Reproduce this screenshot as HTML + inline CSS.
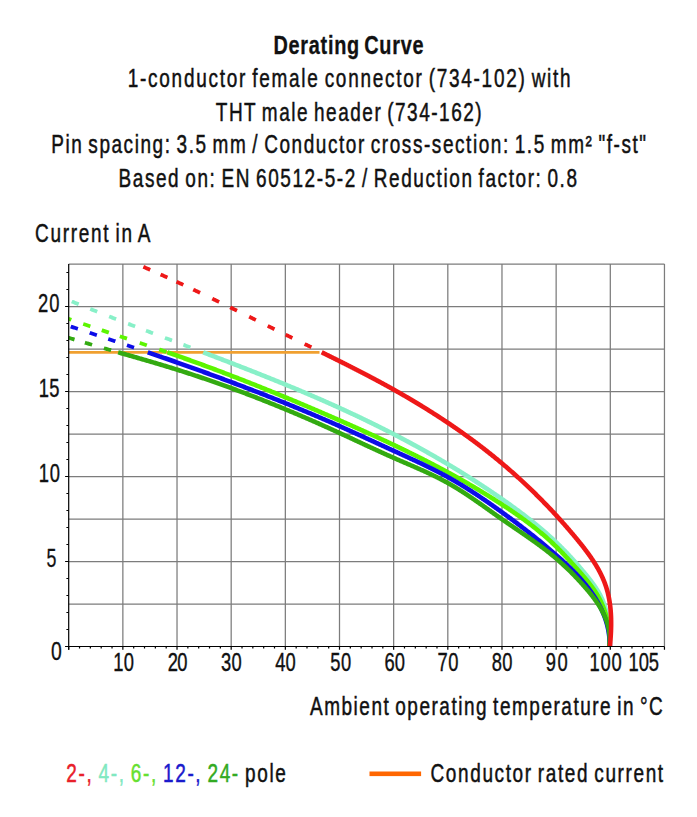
<!DOCTYPE html>
<html><head><meta charset="utf-8"><style>
html,body{margin:0;padding:0;background:#fff;}
svg{display:block;}
text{font-family:"Liberation Sans",sans-serif;fill:#111;stroke:#111;stroke-width:0.3;}
tspan{stroke:currentColor;}
</style></head><body>
<svg width="697" height="817" viewBox="0 0 697 817">
<defs><clipPath id="pc"><rect x="68.7" y="264" width="595.5" height="382.5"/></clipPath></defs>
<g id="grid" stroke="#7c7c7c" stroke-width="1.25" fill="none"><path d="M122.86,264V646.5M177.02,264V646.5M231.18,264V646.5M285.34,264V646.5M339.50,264V646.5M393.66,264V646.5M447.82,264V646.5M501.98,264V646.5M556.14,264V646.5M610.30,264V646.5M664.46,264V646.5M68.7,604.00H664.46M68.7,561.50H664.46M68.7,519.00H664.46M68.7,476.50H664.46M68.7,434.00H664.46M68.7,391.50H664.46M68.7,349.00H664.46M68.7,306.50H664.46M68.7,264.00H664.46"/></g>
<g id="plot" clip-path="url(#pc)">
<path d="M68.7,352.30H319.50" stroke="#f0a030" stroke-width="2.8" fill="none"/>
<path d="M53.27,293.75 53.89,294.02 54.61,294.32 55.32,294.62 56.04,294.92 56.76,295.22 57.47,295.52 58.19,295.82 58.90,296.12 59.62,296.42 60.18,296.66 M71.73,301.44 71.82,301.48 72.54,301.77 73.26,302.06 73.98,302.36 74.70,302.65 75.41,302.95 76.13,303.24 76.85,303.53 77.57,303.83 78.29,304.12 78.67,304.27 M90.22,308.92 90.54,309.05 91.27,309.34 91.99,309.63 92.71,309.92 93.43,310.21 94.15,310.49 94.88,310.78 95.60,311.07 96.32,311.36 97.04,311.64 97.18,311.70 M109.11,316.40 109.34,316.49 110.06,316.77 110.79,317.05 111.51,317.34 112.24,317.62 112.96,317.90 113.68,318.18 114.41,318.47 115.13,318.75 115.86,319.03 116.09,319.12 M128.10,323.77 128.19,323.80 128.91,324.08 129.64,324.36 130.37,324.64 131.09,324.92 131.82,325.20 132.54,325.48 133.27,325.76 134.00,326.03 134.72,326.31 135.10,326.46 M146.00,330.62 146.35,330.76 147.08,331.03 147.80,331.31 148.53,331.59 149.26,331.86 149.99,332.14 150.71,332.42 151.44,332.69 152.17,332.97 152.90,333.25 153.01,333.29 M164.99,337.83 165.26,337.94 165.99,338.21 166.72,338.49 167.45,338.76 168.18,339.04 168.90,339.31 169.63,339.59 170.36,339.87 171.09,340.14 171.81,340.42 172.01,340.49 M183.39,344.80 183.46,344.82 184.19,345.10 184.92,345.37 185.64,345.65 186.37,345.92 187.10,346.20 187.83,346.48 188.56,346.75 189.28,347.03 190.01,347.30 190.41,347.45" stroke="#88f0c8" stroke-width="3.80" fill="none"/>
<path d="M203.19,352.30 203.84,352.55 204.56,352.82 205.29,353.10 206.02,353.38 206.75,353.65 207.47,353.93 208.20,354.21 208.93,354.49 209.65,354.76 210.38,355.04 211.11,355.32 211.84,355.59 212.56,355.87 213.29,356.15 214.02,356.43 214.74,356.70 215.47,356.98 216.20,357.26 216.92,357.54 217.65,357.82 218.38,358.10 219.10,358.37 219.83,358.65 220.56,358.93 221.28,359.21 222.01,359.49 222.74,359.77 223.46,360.05 224.19,360.32 224.92,360.60 225.64,360.88 226.37,361.16 227.09,361.44 227.82,361.72 228.55,362.00 229.27,362.28 230.00,362.56 230.72,362.84 231.45,363.12 232.18,363.40 232.90,363.68 233.63,363.97 234.35,364.25 235.08,364.53 235.80,364.81 236.53,365.09 237.25,365.37 237.98,365.65 238.70,365.93 239.43,366.22 240.15,366.50 240.88,366.78 241.60,367.06 242.33,367.35 243.05,367.63 243.78,367.91 244.50,368.20 245.23,368.48 245.95,368.76 246.67,369.05 247.40,369.33 248.12,369.61 248.85,369.90 249.57,370.18 250.29,370.47 251.02,370.75 251.74,371.04 252.47,371.32 253.19,371.61 253.91,371.89 254.64,372.18 255.36,372.46 256.08,372.75 256.81,373.04 257.53,373.32 258.25,373.61 258.97,373.90 259.70,374.18 260.42,374.47 261.14,374.76 261.87,375.05 262.59,375.33 263.31,375.62 264.03,375.91 264.75,376.20 265.48,376.49 266.20,376.78 266.92,377.07 267.64,377.36 268.36,377.65 269.08,377.94 269.81,378.23 270.53,378.52 271.25,378.81 271.97,379.10 272.69,379.39 273.41,379.68 274.13,379.97 274.85,380.26 275.57,380.56 276.29,380.85 277.01,381.14 277.73,381.43 278.45,381.73 279.17,382.02 279.89,382.31 280.61,382.61 281.33,382.90 282.05,383.20 282.77,383.49 283.49,383.79 284.21,384.08 284.93,384.38 285.65,384.67 286.37,384.97 287.09,385.27 287.80,385.56 288.52,385.86 289.24,386.16 289.96,386.45 290.68,386.75 291.39,387.05 292.11,387.35 292.83,387.65 293.55,387.94 294.26,388.24 294.98,388.54 295.70,388.84 296.42,389.14 297.13,389.44 297.85,389.74 298.57,390.05 299.28,390.35 300.00,390.65 300.71,390.95 301.43,391.25 302.15,391.56 302.86,391.86 303.58,392.16 304.29,392.46 305.01,392.77 305.72,393.07 306.44,393.38 307.15,393.68 307.87,393.99 308.58,394.29 309.30,394.60 310.01,394.90 310.72,395.21 311.44,395.52 312.15,395.83 312.87,396.13 313.58,396.44 314.29,396.75 315.00,397.06 315.72,397.37 316.43,397.68 317.14,397.99 317.86,398.30 318.57,398.61 319.28,398.92 319.99,399.23 320.70,399.54 321.42,399.85 322.13,400.16 322.84,400.47 323.55,400.79 324.26,401.10 324.97,401.41 325.68,401.73 326.39,402.04 327.10,402.36 327.81,402.67 328.52,402.99 329.23,403.30 329.94,403.62 330.65,403.94 331.36,404.25 332.07,404.57 332.78,404.89 333.49,405.21 334.20,405.53 334.90,405.85 335.61,406.17 336.32,406.48 337.03,406.81 337.74,407.13 338.44,407.45 339.15,407.77 339.86,408.09 340.56,408.41 341.27,408.74 341.98,409.06 342.68,409.38 343.39,409.71 344.10,410.03 344.80,410.36 345.51,410.68 346.21,411.01 346.92,411.33 347.62,411.66 348.33,411.99 349.03,412.31 349.74,412.64 350.44,412.97 351.14,413.30 351.85,413.63 352.55,413.96 353.25,414.29 353.96,414.62 354.66,414.95 355.36,415.28 356.07,415.61 356.77,415.94 357.47,416.27 358.17,416.61 358.87,416.94 359.58,417.27 360.28,417.61 360.98,417.94 361.68,418.28 362.38,418.61 363.08,418.95 363.78,419.29 364.48,419.62 365.18,419.96 365.88,420.30 366.58,420.64 367.28,420.98 367.98,421.31 368.68,421.65 369.37,421.99 370.07,422.33 370.77,422.68 371.47,423.02 372.17,423.36 372.86,423.70 373.56,424.04 374.26,424.39 374.95,424.73 375.65,425.07 376.35,425.42 377.04,425.76 377.74,426.11 378.43,426.46 379.13,426.80 379.82,427.15 380.52,427.50 381.21,427.84 381.91,428.19 382.60,428.54 383.30,428.89 383.99,429.24 384.68,429.59 385.38,429.94 386.07,430.29 386.76,430.64 387.45,430.99 388.15,431.35 388.84,431.70 389.53,432.05 390.22,432.41 390.91,432.76 391.60,433.12 392.30,433.47 392.99,433.83 393.68,434.18 394.37,434.54 395.06,434.90 395.75,435.26 396.43,435.61 397.12,435.97 397.81,436.33 398.50,436.69 399.19,437.05 399.88,437.41 400.56,437.77 401.25,438.14 401.94,438.50 402.63,438.86 403.31,439.22 404.00,439.59 404.69,439.95 405.37,440.32 406.06,440.68 406.74,441.05 407.43,441.41 408.11,441.78 408.80,442.15 409.48,442.51 410.17,442.88 410.85,443.25 411.53,443.62 412.22,443.99 412.90,444.36 413.58,444.73 414.27,445.10 414.95,445.47 415.63,445.84 416.31,446.22 416.99,446.59 417.67,446.96 418.35,447.34 419.04,447.71 419.72,448.09 420.40,448.46 421.08,448.84 421.76,449.22 422.43,449.59 423.11,449.97 423.79,450.35 424.47,450.73 425.15,451.11 425.83,451.49 426.50,451.87 427.18,452.25 427.86,452.63 428.53,453.01 429.21,453.39 429.89,453.78 430.56,454.16 431.24,454.54 431.91,454.93 432.59,455.31 433.26,455.70 433.94,456.08 434.61,456.47 435.28,456.86 435.96,457.25 436.63,457.63 437.30,458.02 437.98,458.41 438.65,458.80 439.32,459.19 439.99,459.58 440.66,459.98 441.33,460.37 442.01,460.76 442.68,461.15 443.35,461.55 444.02,461.94 444.69,462.34 445.35,462.73 446.02,463.13 446.69,463.52 447.36,463.92 448.03,464.32 448.70,464.71 449.36,465.11 450.03,465.51 450.70,465.91 451.36,466.31 452.03,466.71 452.70,467.11 453.36,467.52 454.03,467.92 454.69,468.32 455.35,468.73 456.02,469.13 456.68,469.53 457.35,469.94 458.01,470.34 458.67,470.75 459.34,471.16 460.00,471.57 460.66,471.97 461.32,472.38 461.98,472.79 462.64,473.20 463.30,473.61 463.96,474.02 464.62,474.43 465.28,474.85 465.94,475.26 466.60,475.67 467.26,476.09 467.92,476.50 468.58,476.91 469.23,477.33 469.89,477.75 470.55,478.16 471.21,478.58 471.86,479.00 472.52,479.42 473.17,479.83 473.83,480.25 474.48,480.67 475.14,481.10 475.79,481.52 476.45,481.94 477.10,482.36 477.75,482.78 478.41,483.21 479.06,483.63 479.71,484.06 480.36,484.48 481.01,484.91 481.66,485.33 482.32,485.76 482.97,486.19 483.62,486.62 484.27,487.05 484.91,487.48 485.56,487.91 486.21,488.34 486.86,488.77 487.51,489.20 488.16,489.63 488.80,490.07 489.45,490.50 490.10,490.93 490.74,491.37 491.39,491.80 492.03,492.24 492.68,492.68 493.32,493.12 493.97,493.55 494.61,493.99 495.26,494.43 495.90,494.87 496.54,495.31 497.18,495.75 497.83,496.19 498.47,496.64 499.11,497.08 499.75,497.52 500.39,497.97 501.03,498.41 501.67,498.86 502.31,499.30 502.95,499.75 503.59,500.20 504.23,500.64 504.86,501.09 505.50,501.54 506.14,501.99 506.78,502.44 507.41,502.89 508.05,503.35 508.68,503.80 509.32,504.25 509.95,504.71 510.58,505.16 511.22,505.62 511.85,506.07 512.48,506.53 513.11,506.99 513.74,507.45 514.38,507.91 515.00,508.37 515.63,508.83 516.26,509.29 516.89,509.75 517.52,510.21 518.14,510.68 518.77,511.14 519.40,511.61 520.02,512.07 520.64,512.54 521.27,513.01 521.89,513.48 522.51,513.95 523.13,514.42 523.75,514.89 524.37,515.37 524.99,515.84 525.61,516.31 526.22,516.79 526.84,517.27 527.45,517.74 528.07,518.22 528.68,518.70 529.30,519.18 529.91,519.66 530.52,520.15 531.13,520.63 531.74,521.11 532.35,521.60 532.95,522.08 533.56,522.57 534.16,523.06 534.77,523.55 535.37,524.04 535.97,524.53 536.58,525.02 537.18,525.52 537.77,526.01 538.37,526.51 538.97,527.01 539.57,527.50 540.16,528.00 540.76,528.50 541.35,529.01 541.94,529.51 542.53,530.01 543.12,530.52 543.71,531.02 544.29,531.53 544.88,532.04 545.47,532.55 546.05,533.06 546.63,533.57 547.21,534.09 547.79,534.60 548.37,535.12 548.95,535.63 549.52,536.15 550.10,536.67 550.67,537.19 551.25,537.72 551.82,538.24 552.39,538.76 552.95,539.29 553.52,539.82 554.09,540.35 554.65,540.88 555.21,541.41 555.77,541.94 556.33,542.48 556.89,543.01 557.45,543.55 558.01,544.09 558.56,544.63 559.11,545.17 559.67,545.71 560.22,546.25 560.77,546.80 561.31,547.34 561.86,547.89 562.41,548.44 562.95,548.99 563.49,549.54 564.03,550.09 564.57,550.65 565.11,551.20 565.65,551.76 566.19,552.32 566.72,552.88 567.26,553.44 567.79,554.00 568.32,554.57 568.85,555.13 569.38,555.70 569.91,556.26 570.43,556.83 570.96,557.40 571.48,557.97 572.01,558.55 572.53,559.12 573.05,559.70 573.57,560.27 574.09,560.85 574.61,561.43 575.13,562.01 575.64,562.59 576.16,563.17 576.67,563.76 577.18,564.34 577.69,564.93 578.21,565.52 578.71,566.11 579.22,566.70 579.73,567.29 580.24,567.88 580.74,568.48 581.25,569.07 581.75,569.67 582.26,570.27 582.76,570.87 583.26,571.47 583.76,572.07 584.26,572.67 584.76,573.27 585.25,573.88 585.75,574.49 586.25,575.09 586.74,575.70 587.23,576.31 587.73,576.93 588.22,577.54 588.70,578.15 589.19,578.77 589.68,579.39 590.16,580.01 590.64,580.63 591.11,581.25 591.58,581.88 592.05,582.51 592.52,583.14 592.98,583.77 593.44,584.40 593.89,585.04 594.34,585.68 594.79,586.32 595.23,586.96 595.66,587.61 596.09,588.26 596.52,588.91 596.94,589.56 597.35,590.22 597.76,590.88 598.16,591.54 598.55,592.20 598.94,592.87 599.32,593.54 599.69,594.22 600.06,594.89 600.41,595.57 600.77,596.26 601.11,596.95 601.44,597.64 601.77,598.33 602.08,599.03 602.39,599.73 602.69,600.44 602.99,601.14 603.27,601.86 603.54,602.57 603.81,603.29 604.07,604.01 604.32,604.73 604.57,605.46 604.80,606.19 605.03,606.92 605.25,607.66 605.47,608.40 605.67,609.14 605.87,609.88 606.07,610.63 606.25,611.38 606.43,612.13 606.60,612.88 606.77,613.63 606.93,614.39 607.08,615.15 607.23,615.91 607.37,616.67 607.51,617.44 607.64,618.20 607.76,618.97 607.88,619.74 607.99,620.51 608.10,621.28 608.20,622.06 608.30,622.83 608.39,623.61 608.48,624.38 608.56,625.16 608.63,625.94 608.71,626.72 608.77,627.50 608.84,628.28 608.90,629.06 608.95,629.84 609.00,630.63 609.05,631.41 609.09,632.19 609.13,632.98 609.17,633.76 609.20,634.55 609.23,635.33 609.25,636.11 609.27,636.90 609.29,637.68 609.31,638.47 609.32,639.25 609.33,640.03 609.34,640.82 609.34,641.60 609.34,642.38 609.34,643.16 609.34,643.94 609.34,644.72 609.33,645.50 609.32,646.27 609.31,647.05" stroke="#88f0c8" stroke-width="4.60" fill="none" stroke-linejoin="round"/>
<path d="M64.26,317.32 64.70,317.48 65.42,317.73 66.14,317.99 66.87,318.24 67.59,318.49 68.31,318.75 69.03,319.00 69.76,319.25 70.48,319.50 71.20,319.75 71.34,319.80 M83.25,323.91 83.50,324.00 84.22,324.24 84.95,324.49 85.67,324.74 86.40,324.99 87.12,325.23 87.84,325.48 88.57,325.73 89.29,325.97 90.02,326.22 90.35,326.33 M101.75,330.18 102.34,330.38 103.07,330.62 103.79,330.87 104.52,331.11 105.25,331.36 105.97,331.60 106.70,331.84 107.42,332.09 108.15,332.33 108.86,332.57 M119.84,336.24 120.49,336.45 121.21,336.70 121.94,336.94 122.66,337.18 123.39,337.42 124.11,337.67 124.84,337.91 125.57,338.15 126.29,338.39 126.96,338.62 M139.75,342.90 140.08,343.01 140.80,343.26 141.53,343.50 142.25,343.75 142.98,343.99 143.71,344.23 144.43,344.48 145.16,344.72 145.88,344.97 146.61,345.21 146.85,345.30 M159.25,349.51 159.65,349.64 160.37,349.89 161.09,350.14 161.82,350.39 162.54,350.64 163.26,350.89 163.99,351.14 164.71,351.38 165.43,351.63 166.16,351.88 166.35,351.95" stroke="#5cf500" stroke-width="3.80" fill="none"/>
<path d="M167.36,352.30 167.60,352.38 168.33,352.63 169.05,352.88 169.77,353.14 170.49,353.39 171.22,353.64 171.94,353.89 172.66,354.14 173.38,354.39 174.11,354.65 174.83,354.90 175.55,355.15 176.27,355.41 176.99,355.66 177.72,355.91 178.44,356.17 179.16,356.42 179.88,356.68 180.60,356.93 181.32,357.19 182.04,357.44 182.77,357.70 183.49,357.96 184.21,358.21 184.93,358.47 185.65,358.73 186.37,358.98 187.09,359.24 187.81,359.50 188.53,359.76 189.25,360.02 189.97,360.28 190.69,360.54 191.41,360.80 192.13,361.06 192.85,361.32 193.57,361.58 194.29,361.84 195.01,362.10 195.72,362.36 196.44,362.62 197.16,362.88 197.88,363.14 198.60,363.41 199.32,363.67 200.04,363.93 200.76,364.19 201.47,364.46 202.19,364.72 202.91,364.99 203.63,365.25 204.35,365.51 205.06,365.78 205.78,366.04 206.50,366.31 207.22,366.58 207.93,366.84 208.65,367.11 209.37,367.37 210.09,367.64 210.80,367.91 211.52,368.18 212.24,368.44 212.95,368.71 213.67,368.98 214.39,369.25 215.10,369.52 215.82,369.78 216.53,370.05 217.25,370.32 217.97,370.59 218.68,370.86 219.40,371.13 220.11,371.40 220.83,371.67 221.54,371.95 222.26,372.22 222.98,372.49 223.69,372.76 224.41,373.03 225.12,373.30 225.84,373.58 226.55,373.85 227.26,374.12 227.98,374.40 228.69,374.67 229.41,374.94 230.12,375.22 230.84,375.49 231.55,375.77 232.27,376.04 232.98,376.32 233.69,376.59 234.41,376.87 235.12,377.14 235.83,377.42 236.55,377.70 237.26,377.97 237.97,378.25 238.69,378.53 239.40,378.80 240.11,379.08 240.83,379.36 241.54,379.64 242.25,379.92 242.96,380.20 243.68,380.47 244.39,380.75 245.10,381.03 245.81,381.31 246.53,381.59 247.24,381.87 247.95,382.15 248.66,382.43 249.37,382.71 250.08,383.00 250.80,383.28 251.51,383.56 252.22,383.84 252.93,384.12 253.64,384.40 254.35,384.69 255.06,384.97 255.77,385.25 256.49,385.54 257.20,385.82 257.91,386.10 258.62,386.39 259.33,386.67 260.04,386.96 260.75,387.24 261.46,387.52 262.17,387.81 262.88,388.10 263.59,388.38 264.30,388.67 265.01,388.95 265.72,389.24 266.43,389.53 267.14,389.81 267.85,390.10 268.56,390.39 269.27,390.67 269.97,390.96 270.68,391.25 271.39,391.54 272.10,391.82 272.81,392.11 273.52,392.40 274.23,392.69 274.94,392.98 275.64,393.27 276.35,393.56 277.06,393.85 277.77,394.14 278.48,394.43 279.18,394.72 279.89,395.01 280.60,395.30 281.31,395.59 282.02,395.88 282.72,396.18 283.43,396.47 284.14,396.76 284.85,397.05 285.55,397.34 286.26,397.64 286.97,397.93 287.67,398.22 288.38,398.51 289.09,398.81 289.79,399.10 290.50,399.40 291.21,399.69 291.91,399.98 292.62,400.28 293.33,400.57 294.03,400.87 294.74,401.16 295.44,401.46 296.15,401.75 296.86,402.05 297.56,402.35 298.27,402.64 298.97,402.94 299.68,403.23 300.38,403.53 301.09,403.83 301.79,404.13 302.50,404.42 303.20,404.72 303.91,405.02 304.61,405.32 305.32,405.61 306.02,405.91 306.73,406.21 307.43,406.51 308.14,406.81 308.84,407.11 309.55,407.41 310.25,407.71 310.95,408.01 311.66,408.31 312.36,408.61 313.07,408.91 313.77,409.21 314.47,409.51 315.18,409.81 315.88,410.11 316.58,410.41 317.29,410.71 317.99,411.01 318.69,411.31 319.40,411.62 320.10,411.92 320.80,412.22 321.51,412.52 322.21,412.83 322.91,413.13 323.62,413.43 324.32,413.74 325.02,414.04 325.72,414.34 326.43,414.65 327.13,414.95 327.83,415.25 328.53,415.56 329.23,415.86 329.94,416.17 330.64,416.47 331.34,416.78 332.04,417.08 332.74,417.39 333.44,417.69 334.15,418.00 334.85,418.31 335.55,418.61 336.25,418.92 336.95,419.22 337.65,419.53 338.35,419.84 339.05,420.14 339.76,420.45 340.46,420.76 341.16,421.07 341.86,421.37 342.56,421.68 343.26,421.99 343.96,422.30 344.66,422.61 345.36,422.91 346.06,423.22 346.76,423.53 347.46,423.84 348.16,424.15 348.86,424.46 349.56,424.77 350.26,425.08 350.96,425.39 351.66,425.70 352.36,426.01 353.06,426.32 353.76,426.63 354.45,426.94 355.15,427.25 355.85,427.57 356.55,427.88 357.25,428.19 357.95,428.50 358.65,428.82 359.34,429.13 360.04,429.44 360.74,429.75 361.44,430.07 362.14,430.38 362.83,430.70 363.53,431.01 364.23,431.32 364.93,431.64 365.62,431.95 366.32,432.27 367.02,432.58 367.71,432.90 368.41,433.22 369.11,433.53 369.80,433.85 370.50,434.17 371.20,434.48 371.89,434.80 372.59,435.12 373.28,435.44 373.98,435.76 374.67,436.07 375.37,436.39 376.06,436.71 376.76,437.03 377.45,437.35 378.15,437.67 378.84,437.99 379.54,438.31 380.23,438.63 380.93,438.96 381.62,439.28 382.31,439.60 383.01,439.92 383.70,440.24 384.39,440.57 385.09,440.89 385.78,441.21 386.47,441.54 387.16,441.86 387.86,442.19 388.55,442.51 389.24,442.84 389.93,443.16 390.63,443.49 391.32,443.82 392.01,444.14 392.70,444.47 393.39,444.80 394.08,445.13 394.77,445.45 395.46,445.78 396.15,446.11 396.84,446.44 397.53,446.77 398.22,447.10 398.91,447.43 399.60,447.76 400.29,448.09 400.98,448.43 401.67,448.76 402.36,449.09 403.04,449.42 403.73,449.76 404.42,450.09 405.11,450.42 405.79,450.76 406.48,451.09 407.17,451.43 407.86,451.76 408.54,452.10 409.23,452.44 409.91,452.77 410.60,453.11 411.29,453.45 411.97,453.79 412.66,454.13 413.34,454.47 414.03,454.81 414.71,455.15 415.40,455.49 416.08,455.83 416.76,456.17 417.45,456.51 418.13,456.85 418.82,457.19 419.50,457.54 420.18,457.88 420.86,458.23 421.55,458.57 422.23,458.91 422.91,459.26 423.59,459.61 424.27,459.95 424.95,460.30 425.63,460.65 426.32,461.00 427.00,461.34 427.68,461.69 428.36,462.04 429.04,462.39 429.71,462.74 430.39,463.09 431.07,463.44 431.75,463.80 432.43,464.15 433.11,464.50 433.78,464.85 434.46,465.21 435.14,465.56 435.82,465.92 436.49,466.27 437.17,466.63 437.85,466.99 438.52,467.34 439.20,467.70 439.87,468.06 440.55,468.42 441.22,468.78 441.90,469.14 442.57,469.50 443.25,469.86 443.92,470.22 444.59,470.58 445.27,470.94 445.94,471.31 446.61,471.67 447.28,472.03 447.95,472.40 448.63,472.76 449.30,473.13 449.97,473.50 450.64,473.86 451.31,474.23 451.98,474.60 452.65,474.97 453.32,475.34 453.99,475.71 454.66,476.08 455.33,476.45 455.99,476.82 456.66,477.19 457.33,477.56 458.00,477.94 458.66,478.31 459.33,478.69 460.00,479.06 460.66,479.44 461.33,479.81 462.00,480.19 462.66,480.57 463.33,480.95 463.99,481.33 464.65,481.71 465.32,482.09 465.98,482.47 466.64,482.85 467.31,483.23 467.97,483.61 468.63,484.00 469.29,484.38 469.96,484.77 470.62,485.15 471.28,485.54 471.94,485.92 472.60,486.31 473.26,486.70 473.92,487.09 474.58,487.48 475.23,487.87 475.89,488.26 476.55,488.65 477.21,489.04 477.87,489.44 478.52,489.83 479.18,490.22 479.84,490.62 480.49,491.01 481.15,491.41 481.80,491.81 482.46,492.20 483.11,492.60 483.77,493.00 484.42,493.40 485.07,493.80 485.73,494.20 486.38,494.60 487.03,495.01 487.68,495.41 488.33,495.81 488.98,496.22 489.64,496.62 490.29,497.03 490.94,497.44 491.59,497.84 492.23,498.25 492.88,498.66 493.53,499.07 494.18,499.48 494.83,499.89 495.47,500.31 496.12,500.72 496.77,501.13 497.41,501.55 498.06,501.96 498.70,502.38 499.35,502.79 499.99,503.21 500.64,503.63 501.28,504.05 501.92,504.47 502.57,504.89 503.21,505.31 503.85,505.73 504.49,506.15 505.13,506.58 505.77,507.00 506.41,507.43 507.05,507.85 507.69,508.28 508.33,508.71 508.97,509.14 509.61,509.57 510.24,510.00 510.88,510.43 511.51,510.86 512.15,511.29 512.78,511.73 513.42,512.16 514.05,512.60 514.68,513.04 515.31,513.47 515.94,513.91 516.57,514.35 517.20,514.79 517.83,515.24 518.46,515.68 519.09,516.12 519.71,516.57 520.34,517.01 520.96,517.46 521.58,517.91 522.21,518.36 522.83,518.81 523.45,519.26 524.07,519.71 524.69,520.17 525.30,520.62 525.92,521.08 526.54,521.54 527.15,522.00 527.76,522.46 528.38,522.92 528.99,523.38 529.60,523.84 530.21,524.31 530.81,524.77 531.42,525.24 532.03,525.71 532.63,526.18 533.23,526.65 533.84,527.12 534.44,527.59 535.04,528.07 535.64,528.54 536.23,529.02 536.83,529.50 537.42,529.98 538.02,530.46 538.61,530.95 539.20,531.43 539.79,531.91 540.37,532.40 540.96,532.89 541.55,533.38 542.13,533.87 542.71,534.36 543.29,534.86 543.87,535.35 544.45,535.85 545.02,536.35 545.60,536.85 546.17,537.35 546.74,537.85 547.31,538.36 547.88,538.86 548.45,539.37 549.01,539.88 549.58,540.39 550.14,540.90 550.70,541.42 551.25,541.93 551.81,542.45 552.37,542.97 552.92,543.49 553.47,544.01 554.02,544.54 554.57,545.06 555.11,545.59 555.66,546.12 556.20,546.65 556.74,547.18 557.28,547.71 557.82,548.25 558.35,548.79 558.89,549.32 559.42,549.86 559.95,550.40 560.48,550.95 561.01,551.49 561.53,552.04 562.06,552.58 562.59,553.13 563.11,553.68 563.63,554.23 564.15,554.78 564.67,555.34 565.19,555.89 565.71,556.45 566.23,557.00 566.75,557.56 567.26,558.12 567.78,558.68 568.30,559.24 568.81,559.80 569.32,560.37 569.84,560.93 570.35,561.50 570.86,562.06 571.38,562.63 571.89,563.20 572.40,563.76 572.91,564.33 573.42,564.90 573.93,565.47 574.44,566.04 574.95,566.61 575.46,567.19 575.97,567.76 576.48,568.33 576.99,568.90 577.50,569.48 578.01,570.05 578.52,570.63 579.03,571.21 579.54,571.78 580.04,572.36 580.55,572.94 581.06,573.52 581.56,574.10 582.06,574.68 582.56,575.27 583.07,575.85 583.56,576.44 584.06,577.02 584.56,577.61 585.05,578.20 585.55,578.79 586.04,579.38 586.53,579.98 587.01,580.57 587.50,581.17 587.98,581.77 588.46,582.37 588.93,582.98 589.41,583.58 589.88,584.19 590.35,584.80 590.81,585.41 591.27,586.02 591.73,586.64 592.18,587.26 592.63,587.88 593.08,588.50 593.52,589.13 593.95,589.75 594.38,590.38 594.81,591.02 595.23,591.65 595.65,592.29 596.06,592.94 596.47,593.58 596.87,594.23 597.26,594.88 597.65,595.53 598.04,596.19 598.41,596.85 598.78,597.52 599.15,598.18 599.51,598.85 599.86,599.53 600.20,600.21 600.54,600.89 600.87,601.57 601.20,602.26 601.52,602.95 601.83,603.64 602.14,604.34 602.44,605.04 602.73,605.74 603.02,606.45 603.30,607.16 603.57,607.87 603.84,608.58 604.10,609.30 604.35,610.02 604.60,610.74 604.84,611.46 605.08,612.19 605.31,612.92 605.53,613.65 605.75,614.38 605.96,615.11 606.16,615.85 606.36,616.59 606.55,617.33 606.74,618.07 606.92,618.81 607.09,619.56 607.26,620.31 607.42,621.06 607.58,621.81 607.73,622.56 607.87,623.31 608.01,624.07 608.14,624.82 608.27,625.58 608.38,626.34 608.50,627.10 608.61,627.86 608.71,628.62 608.80,629.38 608.89,630.15 608.98,630.91 609.06,631.67 609.13,632.44 609.20,633.21 609.26,633.97 609.31,634.74 609.36,635.51 609.40,636.28 609.44,637.04 609.47,637.81 609.50,638.58 609.52,639.35 609.54,640.12 609.55,640.89 609.55,641.66 609.55,642.42 609.54,643.19 609.53,643.96 609.51,644.73 609.48,645.50 609.46,646.26 609.42,647.03" stroke="#5cf500" stroke-width="4.60" fill="none" stroke-linejoin="round"/>
<path d="M51.83,320.32 52.33,320.49 53.05,320.72 53.77,320.96 54.49,321.19 55.21,321.43 55.93,321.66 56.65,321.90 57.37,322.14 58.09,322.37 58.81,322.61 58.96,322.65 M70.74,326.52 71.05,326.63 71.77,326.86 72.49,327.10 73.21,327.34 73.93,327.57 74.65,327.81 75.37,328.05 76.09,328.28 76.81,328.52 77.53,328.76 77.86,328.87 M89.74,332.79 89.76,332.80 90.48,333.04 91.20,333.27 91.92,333.51 92.64,333.75 93.36,333.99 94.08,334.23 94.80,334.47 95.51,334.70 96.23,334.94 96.86,335.15 M108.24,338.94 108.46,339.01 109.17,339.25 109.89,339.49 110.61,339.73 111.33,339.97 112.05,340.21 112.77,340.45 113.49,340.69 114.20,340.93 114.92,341.17 115.36,341.32 M126.95,345.22 127.13,345.28 127.85,345.52 128.57,345.77 129.28,346.01 130.00,346.25 130.72,346.49 131.44,346.74 132.15,346.98 132.87,347.22 133.59,347.47 134.05,347.62" stroke="#0c0ce8" stroke-width="3.80" fill="none"/>
<path d="M147.76,352.30 147.93,352.36 148.65,352.60 149.36,352.85 150.08,353.10 150.80,353.34 151.51,353.59 152.23,353.84 152.95,354.08 153.66,354.33 154.38,354.58 155.10,354.82 155.81,355.07 156.53,355.32 157.24,355.56 157.96,355.81 158.68,356.06 159.39,356.31 160.11,356.56 160.82,356.80 161.54,357.05 162.25,357.30 162.97,357.55 163.69,357.80 164.40,358.05 165.12,358.29 165.83,358.54 166.55,358.79 167.26,359.04 167.98,359.29 168.69,359.54 169.41,359.79 170.12,360.04 170.84,360.29 171.55,360.54 172.27,360.79 172.98,361.04 173.70,361.29 174.41,361.54 175.13,361.79 175.84,362.05 176.56,362.30 177.27,362.55 177.99,362.80 178.70,363.05 179.41,363.30 180.13,363.56 180.84,363.81 181.56,364.06 182.27,364.31 182.99,364.57 183.70,364.82 184.41,365.07 185.13,365.33 185.84,365.58 186.56,365.83 187.27,366.09 187.98,366.34 188.70,366.59 189.41,366.85 190.12,367.10 190.84,367.36 191.55,367.61 192.26,367.87 192.98,368.12 193.69,368.38 194.40,368.63 195.12,368.89 195.83,369.14 196.54,369.40 197.25,369.66 197.97,369.91 198.68,370.17 199.39,370.43 200.10,370.68 200.82,370.94 201.53,371.20 202.24,371.45 202.95,371.71 203.67,371.97 204.38,372.23 205.09,372.49 205.80,372.74 206.51,373.00 207.22,373.26 207.94,373.52 208.65,373.78 209.36,374.04 210.07,374.30 210.78,374.56 211.49,374.82 212.21,375.08 212.92,375.34 213.63,375.60 214.34,375.86 215.05,376.12 215.76,376.38 216.47,376.64 217.18,376.90 217.89,377.16 218.60,377.43 219.31,377.69 220.02,377.95 220.73,378.21 221.45,378.48 222.16,378.74 222.87,379.00 223.58,379.26 224.29,379.53 225.00,379.79 225.71,380.06 226.42,380.32 227.12,380.58 227.83,380.85 228.54,381.11 229.25,381.38 229.96,381.64 230.67,381.91 231.38,382.17 232.09,382.44 232.80,382.71 233.51,382.97 234.22,383.24 234.93,383.50 235.63,383.77 236.34,384.04 237.05,384.31 237.76,384.57 238.47,384.84 239.18,385.11 239.88,385.38 240.59,385.65 241.30,385.91 242.01,386.18 242.72,386.45 243.42,386.72 244.13,386.99 244.84,387.26 245.55,387.53 246.25,387.80 246.96,388.07 247.67,388.34 248.38,388.61 249.08,388.88 249.79,389.15 250.50,389.43 251.20,389.70 251.91,389.97 252.62,390.24 253.32,390.52 254.03,390.79 254.74,391.06 255.44,391.33 256.15,391.61 256.85,391.88 257.56,392.16 258.27,392.43 258.97,392.70 259.68,392.98 260.38,393.25 261.09,393.53 261.79,393.80 262.50,394.08 263.20,394.36 263.91,394.63 264.61,394.91 265.32,395.19 266.02,395.46 266.73,395.74 267.43,396.02 268.14,396.29 268.84,396.57 269.55,396.85 270.25,397.13 270.95,397.41 271.66,397.69 272.36,397.97 273.07,398.25 273.77,398.53 274.47,398.81 275.18,399.09 275.88,399.37 276.58,399.65 277.29,399.93 277.99,400.21 278.69,400.49 279.39,400.77 280.10,401.06 280.80,401.34 281.50,401.62 282.20,401.90 282.91,402.19 283.61,402.47 284.31,402.75 285.01,403.04 285.72,403.32 286.42,403.61 287.12,403.89 287.82,404.18 288.52,404.46 289.22,404.75 289.92,405.03 290.63,405.32 291.33,405.61 292.03,405.89 292.73,406.18 293.43,406.47 294.13,406.75 294.83,407.04 295.53,407.33 296.23,407.62 296.93,407.91 297.63,408.20 298.33,408.49 299.03,408.78 299.73,409.07 300.43,409.36 301.13,409.65 301.83,409.94 302.53,410.23 303.23,410.52 303.93,410.81 304.63,411.10 305.32,411.40 306.02,411.69 306.72,411.98 307.42,412.27 308.12,412.57 308.82,412.86 309.51,413.15 310.21,413.45 310.91,413.74 311.61,414.04 312.31,414.33 313.00,414.63 313.70,414.93 314.40,415.22 315.09,415.52 315.79,415.81 316.49,416.11 317.19,416.41 317.88,416.71 318.58,417.00 319.28,417.30 319.97,417.60 320.67,417.90 321.36,418.20 322.06,418.50 322.76,418.80 323.45,419.10 324.15,419.40 324.84,419.70 325.54,420.00 326.23,420.30 326.93,420.60 327.62,420.91 328.32,421.21 329.01,421.51 329.71,421.81 330.40,422.12 331.10,422.42 331.79,422.72 332.48,423.03 333.18,423.33 333.87,423.64 334.57,423.94 335.26,424.25 335.95,424.56 336.65,424.86 337.34,425.17 338.03,425.47 338.72,425.78 339.42,426.09 340.11,426.40 340.80,426.71 341.49,427.01 342.19,427.32 342.88,427.63 343.57,427.94 344.26,428.25 344.96,428.56 345.65,428.87 346.34,429.18 347.03,429.49 347.72,429.80 348.41,430.12 349.10,430.43 349.79,430.74 350.49,431.05 351.18,431.36 351.87,431.68 352.56,431.99 353.25,432.30 353.94,432.62 354.63,432.93 355.32,433.24 356.01,433.56 356.70,433.87 357.39,434.18 358.08,434.50 358.77,434.81 359.46,435.13 360.15,435.44 360.84,435.76 361.53,436.07 362.22,436.39 362.91,436.70 363.60,437.02 364.29,437.34 364.98,437.65 365.67,437.97 366.36,438.28 367.05,438.60 367.74,438.92 368.43,439.23 369.12,439.55 369.81,439.87 370.50,440.18 371.19,440.50 371.87,440.82 372.56,441.13 373.25,441.45 373.94,441.77 374.63,442.08 375.32,442.40 376.01,442.72 376.70,443.04 377.39,443.35 378.08,443.67 378.77,443.99 379.46,444.30 380.15,444.62 380.84,444.94 381.53,445.26 382.22,445.57 382.91,445.89 383.60,446.21 384.29,446.52 384.97,446.84 385.66,447.16 386.35,447.47 387.04,447.79 387.73,448.11 388.42,448.42 389.11,448.74 389.80,449.06 390.49,449.37 391.18,449.69 391.87,450.00 392.56,450.32 393.25,450.64 393.95,450.95 394.64,451.27 395.33,451.58 396.02,451.90 396.71,452.21 397.40,452.53 398.09,452.84 398.78,453.16 399.47,453.48 400.16,453.79 400.85,454.11 401.54,454.42 402.23,454.74 402.92,455.05 403.61,455.37 404.30,455.68 404.99,456.00 405.68,456.32 406.37,456.63 407.06,456.95 407.75,457.26 408.44,457.58 409.13,457.90 409.82,458.22 410.51,458.53 411.20,458.85 411.89,459.17 412.58,459.49 413.27,459.81 413.95,460.13 414.64,460.45 415.33,460.77 416.02,461.09 416.70,461.41 417.39,461.74 418.08,462.06 418.76,462.38 419.45,462.71 420.13,463.03 420.82,463.35 421.50,463.68 422.19,464.01 422.87,464.33 423.55,464.66 424.24,464.99 424.92,465.32 425.60,465.65 426.28,465.98 426.96,466.31 427.64,466.64 428.32,466.98 429.00,467.31 429.68,467.64 430.36,467.98 431.04,468.32 431.72,468.65 432.40,468.99 433.07,469.33 433.75,469.67 434.42,470.01 435.10,470.35 435.77,470.70 436.45,471.04 437.12,471.39 437.79,471.73 438.46,472.08 439.14,472.43 439.81,472.78 440.48,473.13 441.14,473.48 441.81,473.84 442.48,474.19 443.15,474.55 443.81,474.90 444.48,475.26 445.14,475.62 445.81,475.98 446.47,476.35 447.13,476.71 447.80,477.07 448.46,477.44 449.12,477.81 449.78,478.18 450.43,478.55 451.09,478.92 451.75,479.29 452.40,479.67 453.06,480.05 453.71,480.42 454.37,480.80 455.02,481.18 455.67,481.56 456.32,481.94 456.98,482.33 457.63,482.71 458.27,483.10 458.92,483.49 459.57,483.87 460.22,484.26 460.86,484.65 461.51,485.05 462.16,485.44 462.80,485.83 463.44,486.23 464.09,486.63 464.73,487.02 465.37,487.42 466.01,487.82 466.65,488.22 467.29,488.62 467.93,489.03 468.57,489.43 469.21,489.84 469.84,490.24 470.48,490.65 471.12,491.06 471.75,491.47 472.39,491.87 473.02,492.29 473.65,492.70 474.29,493.11 474.92,493.52 475.55,493.94 476.18,494.35 476.81,494.77 477.44,495.19 478.07,495.60 478.70,496.02 479.33,496.44 479.96,496.86 480.58,497.28 481.21,497.71 481.84,498.13 482.46,498.55 483.09,498.98 483.71,499.40 484.33,499.83 484.96,500.25 485.58,500.68 486.20,501.11 486.83,501.54 487.45,501.97 488.07,502.40 488.69,502.83 489.31,503.26 489.93,503.69 490.55,504.12 491.17,504.55 491.78,504.99 492.40,505.42 493.02,505.86 493.64,506.29 494.25,506.73 494.87,507.16 495.49,507.60 496.10,508.04 496.72,508.48 497.33,508.92 497.94,509.35 498.56,509.79 499.17,510.23 499.78,510.67 500.40,511.11 501.01,511.56 501.62,512.00 502.23,512.44 502.84,512.88 503.45,513.32 504.06,513.77 504.67,514.21 505.28,514.65 505.89,515.10 506.50,515.54 507.11,515.99 507.72,516.43 508.33,516.88 508.93,517.33 509.54,517.77 510.15,518.22 510.76,518.67 511.36,519.12 511.97,519.57 512.57,520.02 513.18,520.47 513.78,520.92 514.39,521.37 514.99,521.82 515.59,522.27 516.20,522.72 516.80,523.18 517.40,523.63 518.00,524.09 518.61,524.54 519.21,525.00 519.81,525.45 520.41,525.91 521.01,526.37 521.61,526.82 522.21,527.28 522.81,527.74 523.40,528.20 524.00,528.66 524.60,529.12 525.20,529.58 525.79,530.05 526.39,530.51 526.99,530.97 527.58,531.44 528.18,531.90 528.77,532.37 529.37,532.83 529.96,533.30 530.56,533.77 531.15,534.24 531.74,534.71 532.34,535.18 532.93,535.65 533.52,536.12 534.11,536.59 534.70,537.06 535.29,537.54 535.88,538.01 536.47,538.49 537.06,538.96 537.65,539.44 538.24,539.92 538.83,540.40 539.42,540.88 540.01,541.36 540.59,541.84 541.18,542.32 541.77,542.80 542.35,543.29 542.94,543.77 543.52,544.26 544.11,544.74 544.69,545.23 545.27,545.72 545.86,546.21 546.44,546.70 547.02,547.19 547.61,547.68 548.19,548.17 548.77,548.67 549.35,549.16 549.93,549.66 550.51,550.15 551.09,550.65 551.67,551.15 552.25,551.65 552.83,552.15 553.40,552.65 553.98,553.15 554.56,553.65 555.14,554.16 555.71,554.66 556.29,555.17 556.86,555.68 557.44,556.19 558.01,556.70 558.59,557.21 559.16,557.72 559.73,558.23 560.30,558.75 560.87,559.26 561.44,559.78 562.01,560.29 562.58,560.81 563.15,561.33 563.71,561.85 564.28,562.38 564.84,562.90 565.40,563.43 565.97,563.95 566.53,564.48 567.08,565.01 567.64,565.54 568.20,566.07 568.75,566.60 569.30,567.14 569.85,567.67 570.40,568.21 570.95,568.75 571.50,569.29 572.04,569.83 572.58,570.37 573.12,570.92 573.66,571.46 574.20,572.01 574.73,572.56 575.26,573.11 575.79,573.66 576.32,574.21 576.85,574.77 577.37,575.33 577.89,575.88 578.41,576.44 578.93,577.01 579.44,577.57 579.95,578.13 580.46,578.70 580.97,579.27 581.47,579.84 581.97,580.41 582.47,580.98 582.96,581.56 583.46,582.14 583.95,582.72 584.43,583.30 584.92,583.88 585.40,584.46 585.87,585.05 586.35,585.64 586.82,586.23 587.28,586.82 587.75,587.41 588.21,588.01 588.67,588.61 589.12,589.21 589.57,589.81 590.02,590.41 590.46,591.02 590.90,591.63 591.33,592.24 591.77,592.85 592.19,593.46 592.62,594.08 593.04,594.69 593.46,595.31 593.87,595.94 594.28,596.56 594.68,597.19 595.08,597.82 595.48,598.45 595.87,599.08 596.26,599.72 596.64,600.35 597.02,600.99 597.39,601.64 597.76,602.28 598.13,602.93 598.49,603.58 598.84,604.23 599.19,604.88 599.54,605.54 599.88,606.20 600.22,606.86 600.55,607.52 600.88,608.19 601.20,608.85 601.52,609.52 601.83,610.20 602.14,610.87 602.44,611.55 602.73,612.23 603.02,612.91 603.31,613.60 603.59,614.29 603.86,614.98 604.13,615.67 604.40,616.37 604.66,617.06 604.91,617.77 605.16,618.47 605.40,619.18 605.63,619.88 605.86,620.60 606.09,621.31 606.30,622.03 606.52,622.75 606.72,623.47 606.92,624.20 607.12,624.92 607.30,625.65 607.48,626.39 607.66,627.12 607.83,627.86 607.99,628.61 608.15,629.35 608.30,630.10 608.44,630.85 608.58,631.60 608.71,632.36 608.83,633.12 608.95,633.88 609.05,634.65 609.16,635.42 609.25,636.19 609.34,636.96 609.43,637.74 609.50,638.52 609.57,639.31 609.63,640.09 609.68,640.88 609.73,641.67 609.77,642.47 609.80,643.27 609.83,644.07 609.84,644.88 609.85,645.69 609.86,646.50 609.85,647.31" stroke="#0c0ce8" stroke-width="4.60" fill="none" stroke-linejoin="round"/>
<path d="M48.73,331.46 48.78,331.47 49.49,331.70 50.21,331.94 50.92,332.17 51.63,332.40 52.35,332.64 53.06,332.87 53.78,333.10 54.49,333.33 55.21,333.56 55.87,333.77 M67.32,337.37 67.39,337.39 68.11,337.61 68.83,337.83 69.54,338.05 70.26,338.27 70.98,338.49 71.70,338.71 72.42,338.93 73.13,339.15 73.85,339.37 74.49,339.56 M84.90,342.67 85.36,342.81 86.08,343.02 86.80,343.23 87.52,343.44 88.24,343.66 88.96,343.87 89.68,344.08 90.40,344.29 91.12,344.50 91.84,344.71 92.10,344.79 M103.90,348.20 104.09,348.26 104.81,348.47 105.53,348.67 106.25,348.88 106.97,349.09 107.70,349.29 108.42,349.50 109.14,349.71 109.86,349.91 110.58,350.12 111.10,350.27" stroke="#33aa11" stroke-width="3.80" fill="none"/>
<path d="M118.20,352.30 118.51,352.39 119.23,352.60 119.96,352.80 120.68,353.01 121.40,353.21 122.12,353.42 122.84,353.63 123.56,353.83 124.28,354.04 125.00,354.24 125.73,354.45 126.45,354.66 127.17,354.86 127.89,355.07 128.61,355.28 129.33,355.48 130.05,355.69 130.77,355.90 131.49,356.10 132.21,356.31 132.94,356.52 133.66,356.72 134.38,356.93 135.10,357.14 135.82,357.34 136.54,357.55 137.26,357.76 137.98,357.97 138.70,358.18 139.42,358.38 140.14,358.59 140.86,358.80 141.58,359.01 142.30,359.22 143.02,359.43 143.74,359.64 144.46,359.85 145.18,360.06 145.90,360.27 146.62,360.48 147.34,360.69 148.06,360.90 148.78,361.11 149.50,361.32 150.22,361.53 150.94,361.74 151.66,361.95 152.38,362.17 153.10,362.38 153.82,362.59 154.54,362.80 155.25,363.02 155.97,363.23 156.69,363.44 157.41,363.66 158.13,363.87 158.85,364.09 159.57,364.30 160.28,364.52 161.00,364.73 161.72,364.95 162.44,365.16 163.16,365.38 163.87,365.60 164.59,365.82 165.31,366.03 166.03,366.25 166.75,366.47 167.46,366.69 168.18,366.91 168.90,367.13 169.61,367.35 170.33,367.57 171.05,367.79 171.76,368.01 172.48,368.23 173.20,368.45 173.91,368.68 174.63,368.90 175.34,369.12 176.06,369.35 176.78,369.57 177.49,369.80 178.21,370.02 178.92,370.25 179.64,370.47 180.35,370.70 181.07,370.93 181.78,371.16 182.50,371.38 183.21,371.61 183.93,371.84 184.64,372.07 185.35,372.30 186.07,372.53 186.78,372.76 187.49,372.99 188.21,373.23 188.92,373.46 189.64,373.69 190.35,373.92 191.06,374.16 191.77,374.39 192.49,374.63 193.20,374.86 193.91,375.10 194.62,375.33 195.34,375.57 196.05,375.81 196.76,376.04 197.47,376.28 198.18,376.52 198.89,376.76 199.61,377.00 200.32,377.24 201.03,377.48 201.74,377.72 202.45,377.96 203.16,378.20 203.87,378.44 204.58,378.68 205.29,378.93 206.00,379.17 206.71,379.41 207.42,379.66 208.13,379.90 208.84,380.15 209.55,380.39 210.26,380.64 210.97,380.88 211.68,381.13 212.39,381.38 213.10,381.62 213.80,381.87 214.51,382.12 215.22,382.37 215.93,382.62 216.64,382.87 217.34,383.12 218.05,383.37 218.76,383.62 219.47,383.87 220.17,384.12 220.88,384.37 221.59,384.63 222.30,384.88 223.00,385.13 223.71,385.39 224.42,385.64 225.12,385.89 225.83,386.15 226.53,386.40 227.24,386.66 227.95,386.92 228.65,387.17 229.36,387.43 230.06,387.69 230.77,387.95 231.47,388.20 232.18,388.46 232.88,388.72 233.59,388.98 234.29,389.24 235.00,389.50 235.70,389.76 236.40,390.02 237.11,390.29 237.81,390.55 238.52,390.81 239.22,391.07 239.92,391.34 240.63,391.60 241.33,391.86 242.03,392.13 242.73,392.39 243.44,392.66 244.14,392.92 244.84,393.19 245.54,393.46 246.25,393.72 246.95,393.99 247.65,394.26 248.35,394.53 249.05,394.79 249.75,395.06 250.45,395.33 251.16,395.60 251.86,395.87 252.56,396.14 253.26,396.41 253.96,396.68 254.66,396.95 255.36,397.23 256.06,397.50 256.76,397.77 257.46,398.04 258.16,398.32 258.86,398.59 259.56,398.87 260.26,399.14 260.95,399.41 261.65,399.69 262.35,399.97 263.05,400.24 263.75,400.52 264.45,400.79 265.15,401.07 265.84,401.35 266.54,401.63 267.24,401.91 267.94,402.18 268.63,402.46 269.33,402.74 270.03,403.02 270.73,403.30 271.42,403.58 272.12,403.86 272.82,404.14 273.51,404.43 274.21,404.71 274.90,404.99 275.60,405.27 276.30,405.56 276.99,405.84 277.69,406.12 278.38,406.41 279.08,406.69 279.77,406.98 280.47,407.26 281.16,407.55 281.86,407.83 282.55,408.12 283.24,408.41 283.94,408.69 284.63,408.98 285.33,409.27 286.02,409.56 286.71,409.84 287.41,410.13 288.10,410.42 288.79,410.71 289.49,411.00 290.18,411.29 290.87,411.58 291.56,411.87 292.26,412.16 292.95,412.45 293.64,412.75 294.33,413.04 295.02,413.33 295.72,413.62 296.41,413.92 297.10,414.21 297.79,414.50 298.48,414.80 299.17,415.09 299.86,415.39 300.55,415.68 301.24,415.98 301.93,416.28 302.62,416.57 303.31,416.87 304.00,417.16 304.69,417.46 305.38,417.76 306.07,418.06 306.76,418.36 307.45,418.65 308.14,418.95 308.83,419.25 309.51,419.55 310.20,419.85 310.89,420.15 311.58,420.45 312.27,420.75 312.95,421.05 313.64,421.36 314.33,421.66 315.02,421.96 315.70,422.26 316.39,422.56 317.08,422.87 317.76,423.17 318.45,423.47 319.14,423.78 319.82,424.08 320.51,424.39 321.19,424.69 321.88,425.00 322.57,425.30 323.25,425.61 323.94,425.91 324.62,426.22 325.31,426.53 325.99,426.83 326.68,427.14 327.36,427.45 328.04,427.76 328.73,428.07 329.41,428.37 330.10,428.68 330.78,428.99 331.46,429.30 332.15,429.61 332.83,429.92 333.51,430.23 334.20,430.54 334.88,430.85 335.56,431.17 336.24,431.48 336.93,431.79 337.61,432.10 338.29,432.41 338.97,432.73 339.65,433.04 340.33,433.35 341.02,433.67 341.70,433.98 342.38,434.29 343.06,434.61 343.74,434.92 344.42,435.24 345.10,435.55 345.78,435.87 346.46,436.18 347.14,436.50 347.82,436.81 348.50,437.13 349.18,437.45 349.86,437.76 350.54,438.08 351.22,438.40 351.90,438.71 352.58,439.03 353.26,439.35 353.94,439.66 354.62,439.98 355.30,440.30 355.98,440.61 356.66,440.93 357.34,441.25 358.02,441.56 358.70,441.88 359.38,442.20 360.06,442.51 360.74,442.83 361.41,443.15 362.09,443.47 362.77,443.78 363.45,444.10 364.13,444.42 364.81,444.73 365.49,445.05 366.17,445.36 366.85,445.68 367.53,446.00 368.21,446.31 368.89,446.63 369.57,446.94 370.26,447.26 370.94,447.57 371.62,447.89 372.30,448.20 372.98,448.52 373.66,448.83 374.34,449.15 375.02,449.46 375.70,449.77 376.39,450.09 377.07,450.40 377.75,450.71 378.43,451.02 379.11,451.34 379.80,451.65 380.48,451.96 381.16,452.27 381.85,452.58 382.53,452.89 383.21,453.20 383.90,453.51 384.58,453.82 385.27,454.13 385.95,454.44 386.64,454.74 387.32,455.05 388.01,455.36 388.69,455.66 389.38,455.97 390.06,456.27 390.75,456.58 391.44,456.88 392.12,457.19 392.81,457.49 393.50,457.79 394.19,458.10 394.88,458.40 395.56,458.70 396.25,459.00 396.94,459.30 397.63,459.60 398.32,459.90 399.01,460.20 399.70,460.50 400.39,460.79 401.08,461.09 401.77,461.39 402.46,461.69 403.15,461.99 403.84,462.28 404.53,462.58 405.23,462.88 405.92,463.18 406.61,463.47 407.30,463.77 407.99,464.07 408.68,464.37 409.37,464.67 410.06,464.96 410.75,465.26 411.44,465.56 412.13,465.86 412.82,466.16 413.51,466.46 414.20,466.76 414.89,467.06 415.58,467.36 416.26,467.66 416.95,467.97 417.64,468.27 418.33,468.57 419.01,468.88 419.70,469.18 420.39,469.49 421.07,469.79 421.76,470.10 422.44,470.41 423.13,470.72 423.81,471.03 424.50,471.34 425.18,471.65 425.86,471.96 426.54,472.27 427.22,472.59 427.91,472.90 428.59,473.22 429.26,473.54 429.94,473.86 430.62,474.18 431.30,474.50 431.98,474.82 432.65,475.15 433.33,475.47 434.00,475.80 434.67,476.13 435.35,476.46 436.02,476.79 436.69,477.12 437.36,477.46 438.03,477.79 438.70,478.13 439.37,478.47 440.03,478.81 440.70,479.15 441.36,479.50 442.03,479.85 442.69,480.19 443.35,480.54 444.01,480.90 444.67,481.25 445.33,481.61 445.98,481.97 446.64,482.33 447.29,482.69 447.95,483.05 448.60,483.42 449.25,483.79 449.90,484.16 450.55,484.53 451.20,484.91 451.84,485.28 452.49,485.66 453.14,486.04 453.78,486.42 454.42,486.81 455.06,487.19 455.70,487.58 456.34,487.97 456.98,488.36 457.62,488.76 458.26,489.15 458.89,489.55 459.53,489.95 460.16,490.34 460.79,490.75 461.43,491.15 462.06,491.55 462.69,491.96 463.32,492.36 463.95,492.77 464.58,493.18 465.20,493.59 465.83,494.00 466.46,494.42 467.08,494.83 467.71,495.25 468.33,495.66 468.95,496.08 469.58,496.50 470.20,496.92 470.82,497.34 471.44,497.76 472.06,498.19 472.68,498.61 473.30,499.04 473.92,499.46 474.54,499.89 475.16,500.32 475.78,500.74 476.40,501.17 477.01,501.60 477.63,502.03 478.25,502.46 478.86,502.89 479.48,503.33 480.10,503.76 480.71,504.19 481.33,504.62 481.94,505.06 482.55,505.49 483.17,505.93 483.78,506.36 484.40,506.80 485.01,507.23 485.62,507.67 486.24,508.10 486.85,508.54 487.46,508.98 488.08,509.41 488.69,509.85 489.30,510.29 489.92,510.72 490.53,511.16 491.14,511.59 491.76,512.03 492.37,512.47 492.98,512.90 493.60,513.34 494.21,513.78 494.82,514.21 495.44,514.65 496.05,515.08 496.66,515.52 497.28,515.95 497.89,516.38 498.51,516.82 499.12,517.25 499.74,517.68 500.35,518.12 500.97,518.55 501.59,518.98 502.20,519.41 502.82,519.84 503.44,520.27 504.05,520.70 504.67,521.12 505.29,521.55 505.91,521.98 506.53,522.40 507.14,522.83 507.76,523.26 508.38,523.68 509.00,524.11 509.62,524.53 510.24,524.95 510.86,525.38 511.48,525.80 512.10,526.23 512.72,526.65 513.34,527.07 513.96,527.49 514.58,527.92 515.20,528.34 515.82,528.76 516.44,529.19 517.06,529.61 517.68,530.03 518.29,530.45 518.91,530.88 519.53,531.30 520.15,531.72 520.77,532.15 521.39,532.57 522.01,532.99 522.62,533.42 523.24,533.84 523.86,534.27 524.47,534.69 525.09,535.12 525.71,535.54 526.32,535.97 526.94,536.40 527.55,536.82 528.17,537.25 528.78,537.68 529.39,538.11 530.01,538.54 530.62,538.97 531.23,539.40 531.84,539.83 532.45,540.26 533.06,540.70 533.67,541.13 534.28,541.56 534.89,542.00 535.50,542.44 536.10,542.87 536.71,543.31 537.31,543.75 537.92,544.19 538.52,544.63 539.12,545.07 539.73,545.52 540.33,545.96 540.93,546.41 541.53,546.85 542.13,547.30 542.72,547.75 543.32,548.20 543.92,548.65 544.51,549.10 545.10,549.56 545.70,550.01 546.29,550.47 546.88,550.93 547.47,551.39 548.06,551.85 548.64,552.31 549.23,552.78 549.82,553.24 550.40,553.71 550.98,554.18 551.56,554.65 552.14,555.12 552.72,555.59 553.30,556.07 553.88,556.55 554.45,557.03 555.03,557.51 555.60,557.99 556.17,558.48 556.74,558.96 557.31,559.45 557.87,559.94 558.44,560.43 559.00,560.93 559.57,561.42 560.13,561.92 560.69,562.42 561.25,562.92 561.80,563.42 562.36,563.93 562.91,564.43 563.47,564.94 564.02,565.45 564.57,565.96 565.12,566.48 565.67,566.99 566.21,567.51 566.76,568.03 567.30,568.55 567.84,569.07 568.38,569.59 568.92,570.12 569.46,570.64 570.00,571.17 570.53,571.70 571.06,572.23 571.60,572.76 572.13,573.30 572.66,573.83 573.18,574.37 573.71,574.91 574.24,575.45 574.76,575.99 575.28,576.53 575.80,577.08 576.32,577.63 576.84,578.17 577.36,578.72 577.87,579.27 578.39,579.83 578.90,580.38 579.41,580.93 579.92,581.49 580.43,582.05 580.93,582.61 581.44,583.17 581.94,583.73 582.45,584.29 582.95,584.86 583.45,585.42 583.94,585.99 584.44,586.56 584.94,587.13 585.43,587.70 585.92,588.27 586.41,588.84 586.90,589.42 587.39,589.99 587.88,590.57 588.36,591.15 588.84,591.73 589.32,592.31 589.80,592.90 590.27,593.48 590.75,594.07 591.22,594.66 591.68,595.25 592.15,595.84 592.61,596.43 593.06,597.03 593.52,597.63 593.97,598.23 594.41,598.83 594.85,599.44 595.29,600.05 595.73,600.66 596.16,601.27 596.58,601.88 597.00,602.50 597.42,603.12 597.83,603.74 598.24,604.37 598.64,604.99 599.04,605.62 599.43,606.26 599.82,606.89 600.20,607.53 600.57,608.17 600.94,608.82 601.31,609.47 601.66,610.12 602.01,610.77 602.36,611.43 602.70,612.08 603.03,612.75 603.36,613.41 603.67,614.08 603.99,614.75 604.29,615.42 604.59,616.10 604.88,616.78 605.17,617.46 605.44,618.15 605.71,618.83 605.97,619.52 606.23,620.22 606.47,620.91 606.71,621.61 606.94,622.32 607.17,623.02 607.38,623.73 607.59,624.44 607.78,625.16 607.97,625.87 608.15,626.59 608.32,627.32 608.48,628.04 608.64,628.77 608.78,629.51 608.92,630.24 609.04,630.98 609.16,631.72 609.26,632.46 609.36,633.21 609.45,633.96 609.52,634.71 609.59,635.47 609.64,636.23 609.69,636.99 609.73,637.76 609.75,638.53 609.77,639.30 609.77,640.07 609.76,640.85 609.74,641.63 609.72,642.41 609.67,643.20 609.62,643.99 609.56,644.78 609.49,645.58 609.40,646.38 609.30,647.18" stroke="#33aa11" stroke-width="4.60" fill="none" stroke-linejoin="round"/>
<path d="M125.12,259.15 125.55,259.32 126.23,259.60 126.90,259.88 127.58,260.16 128.25,260.44 128.93,260.72 129.60,261.01 130.28,261.29 130.95,261.57 131.63,261.85 132.05,262.03 M143.36,266.86 143.72,267.01 144.39,267.30 145.06,267.59 145.73,267.88 146.40,268.17 147.07,268.47 147.74,268.76 148.41,269.05 149.07,269.34 149.74,269.64 150.24,269.85 M160.58,274.45 161.08,274.67 161.74,274.97 162.41,275.27 163.08,275.57 163.74,275.87 164.40,276.17 165.07,276.47 165.73,276.77 166.40,277.08 167.06,277.38 167.42,277.54 M176.50,281.70 177.01,281.94 177.67,282.24 178.33,282.55 178.99,282.86 179.65,283.16 180.31,283.47 180.98,283.78 181.64,284.09 182.30,284.39 182.96,284.70 183.30,284.86 M193.31,289.57 193.51,289.67 194.17,289.98 194.83,290.29 195.49,290.60 196.15,290.92 196.81,291.23 197.47,291.54 198.12,291.86 198.78,292.17 199.44,292.48 200.09,292.79 M212.32,298.67 212.58,298.80 213.24,299.12 213.90,299.43 214.55,299.75 215.21,300.07 215.86,300.39 216.52,300.71 217.18,301.02 217.83,301.34 218.49,301.66 219.07,301.95 M230.23,307.39 230.28,307.42 230.94,307.74 231.59,308.06 232.25,308.38 232.90,308.70 233.56,309.02 234.21,309.34 234.86,309.66 235.52,309.99 236.17,310.31 236.83,310.63 236.97,310.70 M249.14,316.69 249.26,316.75 249.91,317.07 250.57,317.40 251.22,317.72 251.88,318.04 252.53,318.36 253.18,318.69 253.84,319.01 254.49,319.33 255.15,319.65 255.80,319.98 255.86,320.01 M267.74,325.87 268.23,326.11 268.88,326.43 269.54,326.75 270.19,327.08 270.85,327.40 271.50,327.72 272.16,328.04 272.81,328.37 273.47,328.69 274.12,329.01 274.46,329.18 M285.63,334.67 285.91,334.80 286.57,335.12 287.22,335.45 287.88,335.77 288.54,336.09 289.19,336.41 289.85,336.73 290.50,337.05 291.16,337.37 291.82,337.69 292.37,337.96 M304.63,343.94 304.94,344.10 305.60,344.42 306.25,344.74 306.91,345.06 307.56,345.38 308.22,345.70 308.88,346.02 309.53,346.34 310.19,346.66 310.85,346.98 311.37,347.24" stroke="#ee1818" stroke-width="3.80" fill="none"/>
<path d="M321.71,352.30 322.00,352.44 322.65,352.76 323.31,353.08 323.96,353.41 324.62,353.73 325.27,354.05 325.93,354.38 326.58,354.70 327.24,355.02 327.89,355.34 328.55,355.67 329.20,355.99 329.86,356.31 330.51,356.64 331.17,356.96 331.82,357.29 332.47,357.61 333.13,357.94 333.78,358.26 334.44,358.58 335.09,358.91 335.74,359.24 336.40,359.56 337.05,359.89 337.71,360.21 338.36,360.54 339.01,360.86 339.66,361.19 340.32,361.52 340.97,361.84 341.62,362.17 342.28,362.50 342.93,362.83 343.58,363.15 344.23,363.48 344.89,363.81 345.54,364.14 346.19,364.47 346.84,364.80 347.49,365.13 348.15,365.46 348.80,365.78 349.45,366.11 350.10,366.45 350.75,366.78 351.40,367.11 352.05,367.44 352.70,367.77 353.35,368.10 354.00,368.43 354.65,368.76 355.30,369.10 355.95,369.43 356.60,369.76 357.25,370.10 357.90,370.43 358.55,370.76 359.20,371.10 359.85,371.43 360.50,371.77 361.14,372.10 361.79,372.44 362.44,372.78 363.09,373.11 363.73,373.45 364.38,373.79 365.03,374.12 365.68,374.46 366.32,374.80 366.97,375.14 367.62,375.48 368.26,375.82 368.91,376.16 369.55,376.50 370.20,376.84 370.84,377.18 371.49,377.52 372.13,377.86 372.78,378.20 373.42,378.54 374.07,378.89 374.71,379.23 375.36,379.57 376.00,379.92 376.64,380.26 377.29,380.61 377.93,380.95 378.57,381.30 379.21,381.64 379.86,381.99 380.50,382.34 381.14,382.68 381.78,383.03 382.42,383.38 383.06,383.73 383.70,384.08 384.34,384.43 384.98,384.78 385.62,385.13 386.26,385.48 386.90,385.83 387.54,386.18 388.18,386.54 388.82,386.89 389.46,387.24 390.10,387.60 390.73,387.95 391.37,388.30 392.01,388.66 392.65,389.02 393.28,389.37 393.92,389.73 394.55,390.09 395.19,390.44 395.83,390.80 396.46,391.16 397.10,391.52 397.73,391.88 398.36,392.24 399.00,392.60 399.63,392.97 400.27,393.33 400.90,393.69 401.53,394.05 402.16,394.42 402.80,394.78 403.43,395.15 404.06,395.51 404.69,395.88 405.32,396.24 405.95,396.61 406.58,396.98 407.21,397.35 407.84,397.71 408.47,398.08 409.10,398.45 409.73,398.82 410.36,399.19 410.99,399.57 411.61,399.94 412.24,400.31 412.87,400.68 413.49,401.06 414.12,401.43 414.75,401.80 415.37,402.18 416.00,402.56 416.62,402.93 417.25,403.31 417.87,403.69 418.49,404.06 419.12,404.44 419.74,404.82 420.36,405.20 420.99,405.58 421.61,405.96 422.23,406.34 422.85,406.73 423.47,407.11 424.09,407.49 424.71,407.87 425.33,408.26 425.95,408.64 426.57,409.03 427.19,409.41 427.81,409.80 428.43,410.19 429.04,410.58 429.66,410.96 430.28,411.35 430.89,411.74 431.51,412.13 432.13,412.52 432.74,412.91 433.36,413.31 433.97,413.70 434.59,414.09 435.20,414.48 435.81,414.88 436.43,415.27 437.04,415.67 437.65,416.06 438.26,416.46 438.87,416.86 439.48,417.26 440.09,417.65 440.70,418.05 441.31,418.45 441.92,418.85 442.53,419.25 443.14,419.65 443.75,420.06 444.36,420.46 444.96,420.86 445.57,421.27 446.18,421.67 446.78,422.07 447.39,422.48 447.99,422.89 448.60,423.29 449.20,423.70 449.81,424.11 450.41,424.52 451.01,424.93 451.61,425.34 452.22,425.75 452.82,426.16 453.42,426.57 454.02,426.98 454.62,427.40 455.22,427.81 455.82,428.22 456.42,428.64 457.02,429.05 457.61,429.47 458.21,429.89 458.81,430.31 459.41,430.72 460.00,431.14 460.60,431.56 461.19,431.98 461.79,432.40 462.38,432.82 462.97,433.25 463.57,433.67 464.16,434.09 464.75,434.52 465.34,434.94 465.94,435.37 466.53,435.79 467.12,436.22 467.71,436.65 468.30,437.07 468.89,437.50 469.47,437.93 470.06,438.36 470.65,438.79 471.24,439.22 471.82,439.65 472.41,440.09 472.99,440.52 473.58,440.95 474.16,441.39 474.75,441.82 475.33,442.26 475.91,442.70 476.50,443.13 477.08,443.57 477.66,444.01 478.24,444.45 478.82,444.89 479.40,445.33 479.98,445.77 480.56,446.21 481.14,446.66 481.72,447.10 482.29,447.54 482.87,447.99 483.45,448.43 484.02,448.88 484.60,449.33 485.17,449.77 485.74,450.22 486.32,450.67 486.89,451.12 487.46,451.57 488.04,452.02 488.61,452.47 489.18,452.93 489.75,453.38 490.32,453.83 490.89,454.29 491.46,454.74 492.02,455.20 492.59,455.65 493.16,456.11 493.72,456.57 494.29,457.03 494.85,457.49 495.42,457.95 495.98,458.41 496.55,458.87 497.11,459.33 497.67,459.80 498.23,460.26 498.80,460.72 499.36,461.19 499.92,461.65 500.48,462.12 501.03,462.59 501.59,463.06 502.15,463.52 502.71,463.99 503.26,464.46 503.82,464.94 504.38,465.41 504.93,465.88 505.49,466.35 506.04,466.83 506.59,467.30 507.14,467.78 507.70,468.25 508.25,468.73 508.80,469.21 509.35,469.68 509.90,470.16 510.45,470.64 511.00,471.12 511.54,471.60 512.09,472.09 512.64,472.57 513.18,473.05 513.73,473.54 514.27,474.02 514.82,474.51 515.36,474.99 515.90,475.48 516.45,475.97 516.99,476.45 517.53,476.94 518.07,477.43 518.61,477.92 519.15,478.41 519.69,478.90 520.23,479.40 520.76,479.89 521.30,480.38 521.84,480.88 522.37,481.37 522.91,481.87 523.44,482.37 523.98,482.86 524.51,483.36 525.04,483.86 525.58,484.36 526.11,484.86 526.64,485.36 527.17,485.86 527.70,486.36 528.23,486.87 528.76,487.37 529.29,487.87 529.81,488.38 530.34,488.89 530.87,489.39 531.39,489.90 531.92,490.41 532.44,490.91 532.96,491.42 533.49,491.93 534.01,492.44 534.53,492.96 535.05,493.47 535.57,493.98 536.09,494.49 536.61,495.01 537.13,495.52 537.65,496.04 538.17,496.55 538.69,497.07 539.20,497.59 539.72,498.10 540.23,498.62 540.75,499.14 541.26,499.66 541.78,500.18 542.29,500.70 542.80,501.23 543.31,501.75 543.82,502.27 544.33,502.80 544.84,503.32 545.35,503.85 545.86,504.37 546.37,504.90 546.88,505.43 547.38,505.96 547.89,506.48 548.40,507.01 548.90,507.54 549.40,508.07 549.91,508.61 550.41,509.14 550.91,509.67 551.42,510.20 551.92,510.74 552.42,511.27 552.92,511.81 553.42,512.34 553.91,512.88 554.41,513.42 554.91,513.96 555.41,514.50 555.90,515.04 556.40,515.58 556.89,516.12 557.39,516.66 557.88,517.20 558.37,517.74 558.87,518.29 559.36,518.83 559.85,519.37 560.34,519.92 560.83,520.47 561.32,521.01 561.81,521.56 562.30,522.11 562.78,522.66 563.27,523.20 563.76,523.75 564.24,524.30 564.73,524.86 565.21,525.41 565.69,525.96 566.18,526.51 566.66,527.07 567.14,527.62 567.62,528.18 568.10,528.73 568.58,529.29 569.06,529.85 569.54,530.40 570.02,530.96 570.50,531.52 570.97,532.08 571.45,532.64 571.92,533.20 572.40,533.76 572.87,534.32 573.35,534.89 573.82,535.45 574.29,536.01 574.76,536.58 575.23,537.14 575.70,537.71 576.17,538.28 576.64,538.84 577.11,539.41 577.58,539.98 578.05,540.55 578.51,541.12 578.98,541.69 579.44,542.26 579.90,542.83 580.36,543.40 580.82,543.98 581.28,544.55 581.74,545.13 582.19,545.71 582.65,546.28 583.10,546.86 583.55,547.44 584.00,548.02 584.45,548.60 584.90,549.18 585.34,549.77 585.78,550.35 586.22,550.94 586.66,551.52 587.10,552.11 587.53,552.70 587.96,553.29 588.39,553.88 588.82,554.47 589.24,555.07 589.67,555.66 590.09,556.26 590.50,556.86 590.92,557.45 591.33,558.05 591.74,558.66 592.14,559.26 592.55,559.86 592.95,560.47 593.35,561.07 593.74,561.68 594.13,562.29 594.52,562.90 594.90,563.52 595.28,564.13 595.66,564.75 596.04,565.36 596.41,565.98 596.77,566.60 597.14,567.23 597.50,567.85 597.85,568.48 598.21,569.10 598.56,569.73 598.90,570.36 599.24,571.00 599.58,571.63 599.91,572.27 600.24,572.90 600.56,573.54 600.88,574.19 601.20,574.83 601.51,575.47 601.82,576.12 602.12,576.77 602.41,577.42 602.71,578.07 603.00,578.73 603.28,579.39 603.56,580.05 603.83,580.71 604.10,581.37 604.36,582.04 604.62,582.70 604.87,583.37 605.12,584.05 605.36,584.72 605.60,585.40 605.83,586.07 606.06,586.75 606.28,587.44 606.50,588.12 606.71,588.81 606.91,589.50 607.11,590.19 607.30,590.89 607.49,591.58 607.67,592.28 607.85,592.98 608.02,593.68 608.18,594.39 608.35,595.10 608.50,595.80 608.65,596.51 608.80,597.23 608.94,597.94 609.07,598.65 609.20,599.37 609.33,600.09 609.45,600.81 609.57,601.53 609.68,602.25 609.79,602.98 609.89,603.70 609.99,604.43 610.08,605.16 610.17,605.89 610.25,606.62 610.34,607.35 610.41,608.08 610.48,608.82 610.55,609.55 610.62,610.29 610.68,611.02 610.73,611.76 610.78,612.50 610.83,613.24 610.88,613.98 610.92,614.72 610.95,615.46 610.99,616.20 611.02,616.94 611.04,617.68 611.07,618.42 611.09,619.16 611.10,619.91 611.12,620.65 611.12,621.39 611.13,622.14 611.13,622.88 611.13,623.62 611.13,624.37 611.13,625.11 611.12,625.85 611.10,626.60 611.09,627.34 611.07,628.08 611.05,628.83 611.03,629.57 611.00,630.31 610.98,631.05 610.95,631.79 610.91,632.53 610.88,633.27 610.84,634.01 610.80,634.75 610.76,635.49 610.72,636.22 610.67,636.96 610.62,637.70 610.57,638.43 610.52,639.16 610.46,639.90 610.41,640.63 610.35,641.36 610.29,642.09 610.23,642.81 610.17,643.54 610.10,644.27 610.04,644.99 609.97,645.71 609.90,646.43 609.83,647.15" stroke="#ee1818" stroke-width="4.60" fill="none" stroke-linejoin="round"/>
</g>
<g id="axes" stroke="#000" stroke-width="1.2" fill="none">
<path d="M68.7,264V649.8M65.5,646.5H664.46"/>
<path d="M65.10,646.50H68.70M66.40,629.50H68.70M66.40,612.50H68.70M66.40,595.50H68.70M66.40,578.50H68.70M65.10,561.50H68.70M66.40,544.50H68.70M66.40,527.50H68.70M66.40,510.50H68.70M66.40,493.50H68.70M65.10,476.50H68.70M66.40,459.50H68.70M66.40,442.50H68.70M66.40,425.50H68.70M66.40,408.50H68.70M65.10,391.50H68.70M66.40,374.50H68.70M66.40,357.50H68.70M66.40,340.50H68.70M66.40,323.50H68.70M65.10,306.50H68.70M66.40,289.50H68.70M66.40,272.50H68.70M68.70,646.50V649.80M79.53,646.50V648.50M90.36,646.50V648.50M101.20,646.50V648.50M112.03,646.50V648.50M122.86,646.50V649.80M133.69,646.50V648.50M144.52,646.50V648.50M155.36,646.50V648.50M166.19,646.50V648.50M177.02,646.50V649.80M187.85,646.50V648.50M198.68,646.50V648.50M209.52,646.50V648.50M220.35,646.50V648.50M231.18,646.50V649.80M242.01,646.50V648.50M252.84,646.50V648.50M263.68,646.50V648.50M274.51,646.50V648.50M285.34,646.50V649.80M296.17,646.50V648.50M307.00,646.50V648.50M317.84,646.50V648.50M328.67,646.50V648.50M339.50,646.50V649.80M350.33,646.50V648.50M361.16,646.50V648.50M372.00,646.50V648.50M382.83,646.50V648.50M393.66,646.50V649.80M404.49,646.50V648.50M415.32,646.50V648.50M426.16,646.50V648.50M436.99,646.50V648.50M447.82,646.50V649.80M458.65,646.50V648.50M469.48,646.50V648.50M480.32,646.50V648.50M491.15,646.50V648.50M501.98,646.50V649.80M512.81,646.50V648.50M523.64,646.50V648.50M534.48,646.50V648.50M545.31,646.50V648.50M556.14,646.50V649.80M566.97,646.50V648.50M577.80,646.50V648.50M588.64,646.50V648.50M599.47,646.50V648.50M610.30,646.50V649.80M621.13,646.50V648.50M631.96,646.50V648.50M642.80,646.50V648.50M653.63,646.50V648.50M664.46,646.50V649.80"/>
</g>
<rect id="leg" x="369.5" y="771.5" width="51.6" height="4.6" fill="#ff6600"/>
<text id="t1" transform="translate(273.50,53.60) scale(0.7800,1)" font-size="25.50" textLength="192.34" lengthAdjust="spacing" font-weight="bold" style="stroke-width:0.30;word-spacing:-2.50px;">Derating Curve</text>
<text id="t2" transform="translate(127.80,86.80) scale(0.7300,1)" font-size="26.00" textLength="606.58" lengthAdjust="spacing" style="stroke-width:0.50;word-spacing:-2.50px;">1-conductor female connector (734-102) with</text>
<text id="t3" transform="translate(215.80,121.10) scale(0.7300,1)" font-size="26.00" textLength="364.12" lengthAdjust="spacing" style="stroke-width:0.50;word-spacing:-2.50px;">THT male header (734-162)</text>
<text id="t4" transform="translate(51.20,153.40) scale(0.7300,1)" font-size="26.00" textLength="814.94" lengthAdjust="spacing" style="stroke-width:0.50;word-spacing:-2.50px;">Pin spacing: 3.5 mm / Conductor cross-section: 1.5 mm² "f-st"</text>
<text id="t5" transform="translate(118.50,186.60) scale(0.7300,1)" font-size="26.00" textLength="628.09" lengthAdjust="spacing" style="stroke-width:0.50;word-spacing:-2.50px;">Based on: EN 60512-5-2 / Reduction factor: 0.8</text>
<text id="t6" transform="translate(35.00,241.70) scale(0.7300,1)" font-size="26.00" textLength="158.24" lengthAdjust="spacing" style="stroke-width:0.50;word-spacing:-2.50px;">Current in A</text>
<text id="t7" transform="translate(310.00,714.50) scale(0.7300,1)" font-size="26.00" textLength="483.29" lengthAdjust="spacing" style="stroke-width:0.50;word-spacing:-2.50px;">Ambient operating temperature in °C</text>
<text id="t8" transform="translate(66.20,781.70) scale(0.7300,1)" font-size="26.00" textLength="300.86" lengthAdjust="spacing" style="stroke-width:0.50;word-spacing:-2.50px;"><tspan fill="#e8202a" color="#e8202a">2-, </tspan><tspan fill="#80e8c0" color="#80e8c0">4-, </tspan><tspan fill="#66e030" color="#66e030">6-, </tspan><tspan fill="#1a1acc" color="#1a1acc">12-, </tspan><tspan fill="#33aa22" color="#33aa22">24- </tspan><tspan fill="#111" color="#111">pole</tspan></text>
<text id="t9" transform="translate(430.50,782.00) scale(0.7300,1)" font-size="26.00" textLength="318.66" lengthAdjust="spacing" style="stroke-width:0.50;word-spacing:-2.50px;">Conductor rated current</text>
<text id="y0" x="51.00" y="660.00" font-size="25.50" textLength="10.81" lengthAdjust="spacingAndGlyphs">0</text>
<text id="y5" x="46.40" y="567.00" font-size="25.50" textLength="9.88" lengthAdjust="spacingAndGlyphs">5</text>
<text id="y10" transform="translate(38.80,481.80) scale(0.7200,1)" font-size="25.50" textLength="29.56" lengthAdjust="spacing" style="stroke-width:0.40;">10</text>
<text id="y15" transform="translate(38.80,397.20) scale(0.7200,1)" font-size="25.50" textLength="28.55" lengthAdjust="spacing" style="stroke-width:0.40;">15</text>
<text id="y20" transform="translate(38.00,311.90) scale(0.7200,1)" font-size="25.50" textLength="29.78" lengthAdjust="spacing" style="stroke-width:0.40;">20</text>
<text id="x10" transform="translate(113.29,671.00) scale(0.7200,1)" font-size="25.50" textLength="28.74" lengthAdjust="spacing" style="stroke-width:0.40;">10</text>
<text id="x20" transform="translate(167.83,671.00) scale(0.7200,1)" font-size="25.50" textLength="27.26" lengthAdjust="spacing" style="stroke-width:0.40;">20</text>
<text id="x30" transform="translate(220.97,671.00) scale(0.7200,1)" font-size="25.50" textLength="28.70" lengthAdjust="spacing" style="stroke-width:0.40;">30</text>
<text id="x40" transform="translate(275.31,671.00) scale(0.7200,1)" font-size="25.50" textLength="28.19" lengthAdjust="spacing" style="stroke-width:0.40;">40</text>
<text id="x50" transform="translate(330.35,671.00) scale(0.7200,1)" font-size="25.50" textLength="29.01" lengthAdjust="spacing" style="stroke-width:0.40;">50</text>
<text id="x60" transform="translate(384.59,671.00) scale(0.7200,1)" font-size="25.50" textLength="28.34" lengthAdjust="spacing" style="stroke-width:0.40;">60</text>
<text id="x70" transform="translate(437.61,671.00) scale(0.7200,1)" font-size="25.50" textLength="28.80" lengthAdjust="spacing" style="stroke-width:0.40;">70</text>
<text id="x80" transform="translate(491.69,671.00) scale(0.7200,1)" font-size="25.50" textLength="28.87" lengthAdjust="spacing" style="stroke-width:0.40;">80</text>
<text id="x90" transform="translate(545.77,671.00) scale(0.7200,1)" font-size="25.50" textLength="30.31" lengthAdjust="spacing" style="stroke-width:0.40;">90</text>
<text id="x100" transform="translate(589.40,671.00) scale(0.7200,1)" font-size="25.50" textLength="45.04" lengthAdjust="spacing" style="stroke-width:0.40;">100</text>
<text id="x105" transform="translate(628.60,671.00) scale(0.7200,1)" font-size="25.50" textLength="42.10" lengthAdjust="spacing" style="stroke-width:0.40;">105</text>
</svg>
</body></html>
